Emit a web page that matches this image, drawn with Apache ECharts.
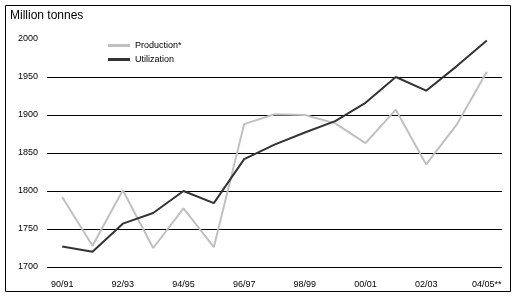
<!DOCTYPE html>
<html>
<head>
<meta charset="utf-8">
<script src="https://cdn.jsdelivr.net/npm/echarts@6/dist/echarts.min.js"></script>
<style>
  html, body { margin: 0; padding: 0; background: #fff; }
  #chart { width: 518px; height: 305px; }
</style>
</head>
<body>
<div id="chart"></div>
<script>
const seasons = ['90/91', '91/92', '92/93', '93/94', '94/95', '95/96', '96/97', '97/98',
  '98/99', '99/00', '00/01', '01/02', '02/03', '03/04', '04/05**'];
const production = [1792, 1728, 1801, 1725, 1777, 1726, 1888, 1901, 1900, 1889, 1863, 1907, 1835, 1887, 1957];
const utilization = [1727, 1720, 1757, 1771, 1800, 1784, 1842, 1861, 1877, 1892, 1916, 1950, 1932, 1964, 1998];

const font = 'Liberation Sans, Arial, sans-serif';

const myChart = echarts.init(document.getElementById('chart'));

const option = {
  animation: false,
  textStyle: { fontFamily: font },
  graphic: [
    {
      type: 'rect',
      shape: { x: 5.5, y: 5.5, width: 505, height: 286 },
      style: { fill: 'none', stroke: '#000', lineWidth: 1 },
    },
    {
      type: 'text',
      left: 10,
      top: 10,
      style: { text: 'Million tonnes', fontSize: 12, fontFamily: font, fill: '#000' },
    },
  ],
  legend: {
    orient: 'vertical',
    left: 103,
    top: 36,
    itemWidth: 22,
    itemHeight: 3,
    itemGap: 5,
    icon: 'rect',
    textStyle: { fontSize: 9, color: '#000', fontFamily: font },
    data: ['Production*', 'Utilization'],
  },
  grid: {
    left: 47,
    right: 16,
    top: 39,
    bottom: 38,
  },
  xAxis: {
    type: 'category',
    data: seasons,
    boundaryGap: true,
    axisLine: { show: false },
    axisTick: { show: false },
    axisLabel: {
      interval: 1,
      fontSize: 9,
      color: '#000',
      margin: 13,
      fontFamily: font,
    },
  },
  yAxis: {
    type: 'value',
    min: 1700,
    max: 2000,
    interval: 50,
    axisLine: { show: false },
    axisTick: { show: false },
    axisLabel: {
      fontSize: 9,
      color: '#000',
      margin: 9,
      fontFamily: font,
      formatter: (v) => String(v),
    },
    splitLine: {
      show: true,
      lineStyle: { color: '#000', width: 1 },
      showMaxLine: false,
    },
  },
  series: [
    {
      name: 'Production*',
      type: 'line',
      data: production,
      symbol: 'none',
      color: '#c0c0c0',
      lineStyle: { width: 2, color: '#c0c0c0' },
    },
    {
      name: 'Utilization',
      type: 'line',
      data: utilization,
      symbol: 'none',
      color: '#333333',
      lineStyle: { width: 2, color: '#333333' },
    },
  ],
};

myChart.setOption(option);
</script>
</body>
</html>
